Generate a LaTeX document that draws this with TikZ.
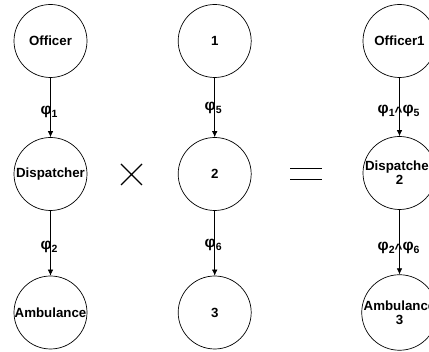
\documentclass[tikz,border=0pt]{standalone}
\usepackage{fontspec}
\setmainfont{Liberation Sans}
\usetikzlibrary{arrows.meta}
\newcommand\phisub[1]{{\fontsize{15.5}{15}\selectfont φ}\raisebox{-3pt}{\fontsize{10.5}{10}\selectfont #1}}
\newcommand\andsym{\raisebox{-2.5pt}{\textasciicircum}}
\tikzset{
  stnode/.style={circle, draw, line width=0.7pt, minimum size=73pt, inner sep=0pt,
    align=center, font=\bfseries\fontsize{13.3}{14}\selectfont},
  lab/.style={inner sep=0pt, font=\bfseries\fontsize{13.5}{14}\selectfont},
  arr/.style={line width=0.7pt, -{Latex[length=6pt,width=5.5pt]}},
  opline/.style={line width=1.6pt}
}
\begin{document}
\begin{tikzpicture}[x=1pt,y=-1pt]
\useasboundingbox (0,0) rectangle (429,352);
\clip (0,0) rectangle (429,352);
% left column
\node[stnode] (o) at (50.5,41) {Officer};
\node[stnode] (d) at (50.5,174) {Dispatcher};
\node[stnode] (a) at (50.5,312.5) {Ambulance};
\draw[arr] (o) -- (d);
\draw[arr] (d) -- (a);
\node[lab] (l1) at (49,112) {\phisub{1}};
\node[lab] (l2) at (49,247) {\phisub{2}};
% middle column
\node[stnode] (m1) at (214.7,41) {1};
\node[stnode] (m2) at (214.7,174) {2};
\node[stnode] (m3) at (214.7,312.5) {3};
\draw[arr] (m1) -- (m2);
\draw[arr] (m2) -- (m3);
\node[lab] (l5) at (213.2,108) {\phisub{5}};
\node[lab] (l6) at (213.2,245) {\phisub{6}};
% right column
\node[stnode] (r1) at (399.5,41) {Officer1};
\node[stnode] (r2) at (399.5,173) {Dispatcher\\2};
\node[stnode] (r3) at (399.5,312.5) {Ambulance\\3};
\draw[arr] (r1) -- (r2);
\draw[arr] (r2) -- (r3);
\node[lab] (l15) at (398.6,111) {\phisub{1}\andsym\phisub{5}};
\node[lab] (l26) at (398.6,248) {\phisub{2}\andsym\phisub{6}};
% operators
\coordinate (x1) at (121,164);
\coordinate (x2) at (142,185);
\coordinate (x3) at (121,185);
\coordinate (x4) at (142,164);
\draw[line width=1.3pt] (x1) -- (x2) (x3) -- (x4);
\coordinate (e1) at (290,168.5);
\coordinate (e2) at (322,168.5);
\coordinate (e3) at (290,179.5);
\coordinate (e4) at (322,179.5);
\draw[opline] (e1) -- (e2) (e3) -- (e4);
\end{tikzpicture}
\end{document}
